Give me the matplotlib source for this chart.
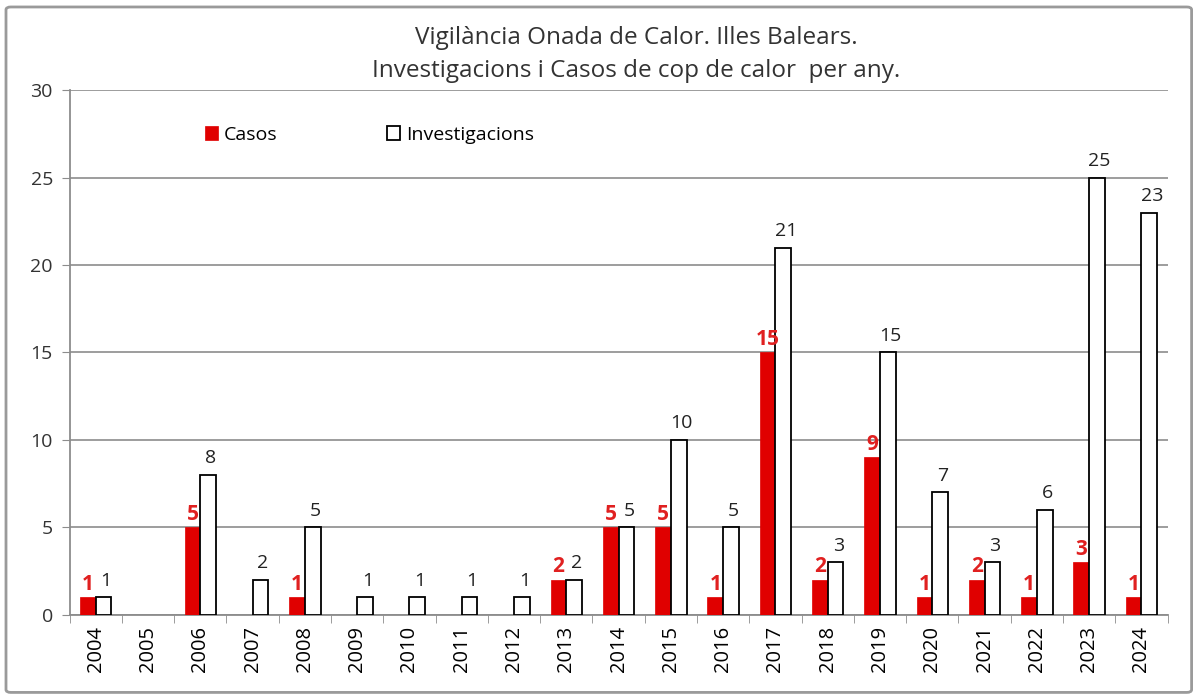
import numpy as np
import matplotlib
matplotlib.use('Agg')
import matplotlib.pyplot as plt
from matplotlib.patches import FancyBboxPatch

plt.rcParams['font.family'] = ['Open Sans', 'DejaVu Sans']

# Dades
anys = ['2004', '2005', '2006', '2007', '2008', '2009', '2010', '2011', '2012', '2013', '2014',
        '2015', '2016', '2017', '2018', '2019', '2020', '2021', '2022', '2023', '2024']
casos = [1, 0, 5, 0, 1, 0, 0, 0, 0, 2, 5, 5, 1, 15, 2, 9, 1, 2, 1, 3, 1]
investigacions = [1, 0, 8, 2, 5, 1, 1, 1, 1, 2, 5, 10, 5, 21, 3, 15, 7, 3, 6, 25, 23]

fig = plt.figure(figsize=(12, 6.98), dpi=100)
ax = fig.add_axes([0.058, 0.119, 0.915, 0.752])

x = np.arange(len(anys))
w = 0.3
vores = ['black' if v > 0 else 'none' for v in investigacions]
ax.bar(x - w / 2, casos, w, color='#e00000', edgecolor='#e00000', linewidth=0.5, label='Casos', zorder=3)
ax.bar(x + w / 2, investigacions, w, color='white', edgecolor=vores, linewidth=1.3,
       label='Investigacions', zorder=3)

# Etiquetes
for i in range(len(anys)):
    if casos[i] > 0:
        ax.text(x[i] - w / 2, casos[i] + 0.15, str(casos[i]), ha='center', va='bottom',
                color='#e02020', fontsize=15, fontweight='bold', zorder=4)
    if investigacions[i] > 0:
        ax.text(x[i] + w / 2 + 0.05, investigacions[i] + 0.45, str(investigacions[i]), ha='center',
                va='bottom', color='#222222', fontsize=14, zorder=4)

ax.set_xlim(-0.5, len(anys) - 0.5)
ax.set_ylim(0, 30)
ax.set_yticks(range(0, 31, 5))
ax.yaxis.grid(True, color='#8c8c8c', linewidth=1.2, zorder=0)
ax.set_xticks(x)
ax.set_xticklabels(anys, rotation=90, fontsize=14.5)
ax.set_xticks(np.arange(-0.5, len(anys), 1), minor=True)
ax.tick_params(axis='x', which='major', length=0, pad=8)
ax.tick_params(axis='x', which='minor', length=6, color='#8c8c8c')
ax.tick_params(axis='y', length=6, color='#8c8c8c', labelsize=14, pad=6, labelcolor='#333333')
for s in ['top', 'right']:
    ax.spines[s].set_visible(False)
for s in ['left', 'bottom']:
    ax.spines[s].set_color('#8c8c8c')
    ax.spines[s].set_linewidth(1.3)

ax.legend(loc='upper left', bbox_to_anchor=(0.107, 0.965), ncol=2, frameon=False, fontsize=14,
          handlelength=0.7, handleheight=0.7, handletextpad=0.3, columnspacing=5.6)

fig.text(0.53, 0.945, 'Vigilància Onada de Calor. Illes Balears.', ha='center', va='center', fontsize=17.5,
         color='#333333')
fig.text(0.53, 0.898, 'Investigacions i Casos de cop de calor  per any.', ha='center', va='center',
         fontsize=17.5, color='#333333')

# Marc exterior
marc = FancyBboxPatch((0.005, 0.008), 0.988, 0.982, boxstyle='round,pad=0,rounding_size=0.004',
                      transform=fig.transFigure, fill=False, edgecolor='#9a9a9a', linewidth=2)
fig.patches.append(marc)

plt.savefig('out.png', dpi=100)
plt.close()
